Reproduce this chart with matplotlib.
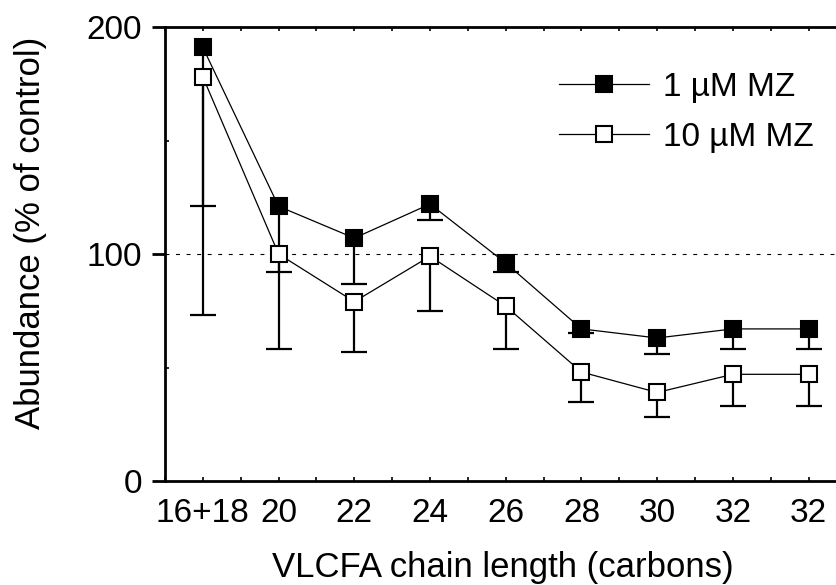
import matplotlib
matplotlib.use('Agg')
import numpy as np
import matplotlib.pyplot as plt
from matplotlib.lines import Line2D
from matplotlib.ticker import FixedLocator, MultipleLocator

plt.rcParams['font.family'] = ['Liberation Sans', 'DejaVu Sans']

# ---- data ----
categories = ["16+18", "20", "22", "24", "26", "28", "30", "32", "32"]
mz1_values = [191, 121, 107, 122, 96, 67, 63, 67, 67]
mz1_err_low = [70, 29, 20, 7, 4, 2, 7, 9, 9]
mz10_values = [178, 100, 79, 99, 77, 48, 39, 47, 47]
mz10_err_low = [105, 42, 22, 24, 19, 13, 11, 14, 14]
series_labels = ["1 \u00b5M MZ", "10 \u00b5M MZ"]

W, H = 837, 585
fig = plt.figure(figsize=(W / 100, H / 100), dpi=100)
ax = fig.add_axes([165 / W, 1 - 481 / H, (846.5 - 165) / W, (481 - 27) / H])

x = list(range(1, len(categories) + 1))
zeros = [0] * len(x)

ax.axhline(100, color='black', lw=0.8, dashes=(3.5, 6), zorder=0)

handles = []
for vals, errs, face, z in [(mz1_values, mz1_err_low, 'black', 4),
                            (mz10_values, mz10_err_low, 'white', 5)]:
    ax.plot(x, vals, color='black', lw=0.9, zorder=1)
    eb = ax.errorbar(x, vals, yerr=[errs, zeros], fmt='none', ecolor='black',
                     elinewidth=1.6, capsize=9.5, capthick=1.6, zorder=2)
    # keep only the lower caps (one-sided error bars)
    for cap in eb[1]:
        if np.allclose(np.asarray(cap.get_ydata(), float), np.asarray(vals, float)):
            cap.set_visible(False)
    ax.plot(x, vals, ls='none', marker='s', ms=11.5, mfc=face, mec='black',
            mew=1.5, zorder=z)
    handles.append(Line2D([], [], color='black', lw=0.9, marker='s', ms=11.5,
                          mfc=face, mec='black', mew=1.5))

fig.legend(handles, series_labels, loc='upper left',
           bbox_to_anchor=(559 / W, 1 - 72 / H), frameon=False, borderpad=0,
           borderaxespad=0, handlelength=2.7, handletextpad=0.42,
           labelspacing=0.56, fontsize=24)

ax.set_xlim(0.5, 9.5)
ax.set_xticks(x)
ax.set_xticklabels(categories)
ax.xaxis.set_minor_locator(MultipleLocator(0.5))
ax.tick_params(axis='x', which='both', direction='in', length=3, width=1.2,
               top=True, pad=12, labelsize=24)

ax.set_ylim(0, 200)
ax.set_yticks([0, 100, 200])
ax.yaxis.set_minor_locator(FixedLocator([50, 150]))
ax.tick_params(axis='y', which='major', direction='out', length=9.5, width=2,
               pad=7, labelsize=24)
ax.tick_params(axis='y', which='minor', direction='in', length=3, width=1.2)

for s in ['left', 'bottom', 'top']:
    ax.spines[s].set_linewidth(2)
ax.spines['right'].set_visible(False)

ax.set_xlabel("VLCFA chain length (carbons)", fontsize=25)
ax.set_ylabel("Abundance (% of control)", fontsize=25)
ax.xaxis.set_label_coords((503 - 165) / 681.5, (481 - 551) / 454)
ax.yaxis.set_label_coords((47 - 165) / 681.5, (481 - 233) / 454)

fig.savefig('out.png', dpi=100)
